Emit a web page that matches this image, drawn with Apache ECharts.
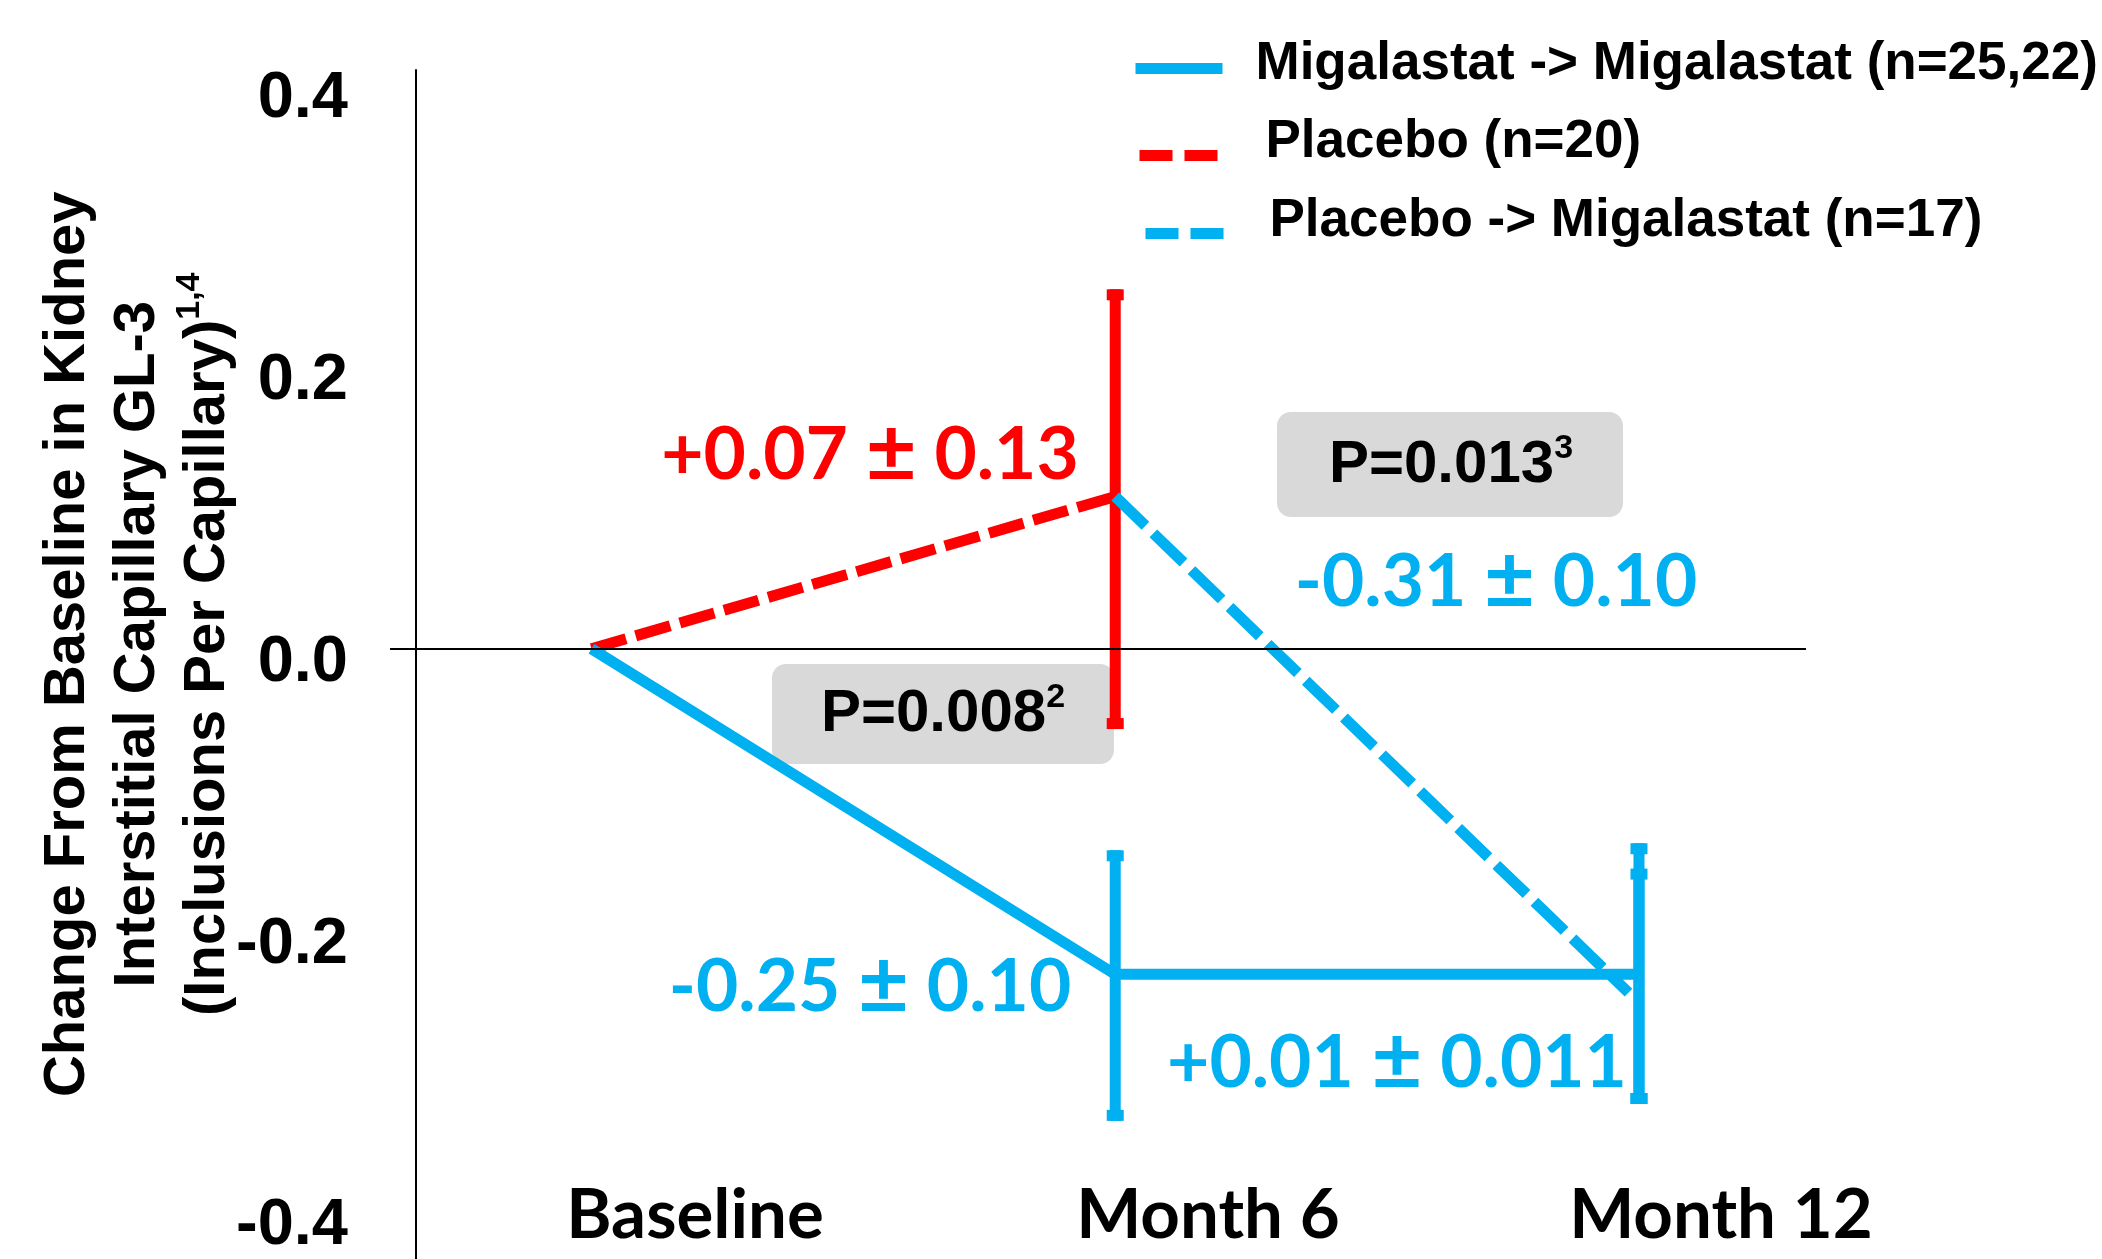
<!DOCTYPE html>
<html>
<head>
<meta charset="utf-8">
<script src="https://cdn.jsdelivr.net/npm/echarts@6/dist/echarts.min.js"></script>
<style>
html,body{margin:0;padding:0;background:#fff;}
#c{width:2102px;height:1259px;}
</style>
</head>
<body>
<div id="c"></div>
<script>
// ---- data ----
const categories = ['Baseline', 'Month 6', 'Month 12'];
const categoryPos = [0, 1, 2];
const yTicks = [-0.4, -0.2, 0, 0.2, 0.4];
const seriesNames = ['Migalastat -> Migalastat (n=25,22)', 'Placebo (n=20)', 'Placebo -> Migalastat (n=17)'];
const migMigX = [0, 1, 2];
const migMigY = [0, -0.231, -0.231];
const placeboX = [0, 1];
const placeboY = [0, 0.108];
const plaMigX = [1, 1.98];
const plaMigY = [0.108, -0.244];
const errX = [1, 1, 2, 2];
const errLow = [-0.057, -0.335, -0.323, -0.323];
const errHigh = [0.255, -0.143, -0.138, -0.156];
const errGroup = [1, 0, 0, 2];
const changeLabels = ['+0.07 \u00B1 0.13', '-0.31 \u00B1 0.10', '-0.25 \u00B1 0.10', '+0.01 \u00B1 0.011'];
const pLabels = ['P=0.008', 'P=0.013'];
const pSup = ['2', '3'];

// ---- styles ----
const BLUE = '#00B0F0', RED = '#FF0000', BOX = '#D9D9D9';
const ARIAL = "'Liberation Sans', Arial, sans-serif";
const CAL = "Lato, 'Open Sans', sans-serif";
const groupColor = [BLUE, RED, BLUE];

const chart = echarts.init(document.getElementById('c'), null, {renderer: 'canvas', width: 2102, height: 1259});

function legendCfg(i, left, top, width, dash, lift, padLeft) {
  return {
    data: [{name: seriesNames[i]}],
    orient: 'vertical', left: left, top: top, padding: 0,
    itemWidth: width, itemHeight: 11,
    itemStyle: {color: 'rgba(0,0,0,0)', borderWidth: 0},
    lineStyle: {width: 11, type: dash, cap: 'butt'},
    formatter: name => name + '\n',
    textStyle: {fontFamily: ARIAL, fontWeight: 'bold', fontSize: 53, color: '#000', lineHeight: lift,
                padding: [0, 0, 0, padLeft]},
    selectedMode: false
  };
}

function textEl(txt, x, y, color) {
  const parts = txt.split('\u00B1');
  return {type: 'text', x: x, y: y, z: 5,
    style: {text: '{n|' + parts[0] + '}{pm|\u00B1}{n|' + parts[1] + '}', align: 'center', verticalAlign: 'middle',
      rich: {
        n: {fill: color, fontFamily: CAL, fontWeight: 'bold', fontSize: 73, lineHeight: 80},
        pm: {fill: color, fontFamily: CAL, fontWeight: 'bold', fontSize: 88, lineHeight: 80}
      }}};
}
function pEl(i, x, y) {
  return {type: 'text', x: x, y: y, z: 5,
    style: {text: '{m|' + pLabels[i] + '}{s|' + pSup[i] + '}', align: 'center', verticalAlign: 'middle',
      rich: {
        m: {fontFamily: ARIAL, fontWeight: 'bold', fontSize: 60, fill: '#000', lineHeight: 66},
        s: {fontFamily: ARIAL, fontWeight: 'bold', fontSize: 34, fill: '#000', verticalAlign: 'top', lineHeight: 40}
      }}};
}

const option = {
  animation: false,
  backgroundColor: '#ffffff',
  grid: {left: 390, right: 296, top: 70, bottom: 0},
  xAxis: [
    {type: 'value', min: -0.3847, max: 2.3189, position: 'top', show: false},
    {type: 'value', min: -0.5945, max: 2.1657, position: 'bottom', offset: -79,
     axisLine: {show: false}, axisTick: {show: false}, splitLine: {show: false},
     axisLabel: {customValues: categoryPos, formatter: v => categories[Math.round(v)],
       fontFamily: CAL, fontWeight: 'bold', fontSize: 69, color: '#000', margin: 36, verticalAlign: 'middle'}}
  ],
  yAxis: {
    type: 'value', min: -0.4326, max: 0.4106, offset: -26,
    axisLine: {show: true, onZero: false, lineStyle: {color: '#000', width: 2}},
    axisTick: {show: false}, splitLine: {show: false},
    axisLabel: {customValues: yTicks, formatter: v => '\n' + v.toFixed(1), fontFamily: ARIAL, fontWeight: 'bold',
      fontSize: 65, lineHeight: 28, color: '#000', margin: 68, padding: [24, 0, 0, 0]},
    name: 'Change From Baseline in Kidney\nInterstitial Capillary GL-3\n(Inclusions Per Capillary){sup|1,4}',
    nameLocation: 'middle', nameRotate: 90, nameGap: 173, nameMoveOverlap: false,
    nameTextStyle: {fontFamily: ARIAL, fontWeight: 'bold', fontSize: 58, lineHeight: 70, color: '#000',
      padding: [0, 0, 0, 40],
      rich: {sup: {fontFamily: ARIAL, fontWeight: 'bold', fontSize: 34, lineHeight: 70, verticalAlign: 'top', color: '#000'}}}
  },
  legend: [
    legendCfg(0, 1130, 38, 87, 'solid', 8, 28),
    legendCfg(1, 1134, 116, 79, [33, 12], 26, 42),
    legendCfg(2, 1140, 195, 79, [33, 12], 24, 40)
  ],
  series: [
    {name: 'zero', type: 'line', data: [], z: 1, silent: true,
     markLine: {silent: true, symbol: 'none', label: {show: false}, animation: false,
       lineStyle: {color: '#000', width: 2, type: 'solid'}, data: [{yAxis: 0}]}},
    {name: 'errorbars', type: 'custom', z: 2, silent: true,
     data: errX.map((x, i) => [x, errLow[i], errHigh[i], errGroup[i]]),
     encode: {x: 0, y: [1, 2]},
     renderItem: function (params, api) {
       const x = api.value(0), lo = api.value(1), hi = api.value(2), g = api.value(3);
       const top = api.coord([x, hi]), bot = api.coord([x, lo]);
       const c = groupColor[g];
       return {type: 'group', children: [
         {type: 'line', shape: {x1: top[0], y1: top[1], x2: bot[0], y2: bot[1]}, style: {stroke: c, lineWidth: 11}},
         {type: 'rect', shape: {x: top[0] - 8.5, y: top[1], width: 17, height: 11}, style: {fill: c}},
         {type: 'rect', shape: {x: bot[0] - 8.5, y: bot[1] - 11, width: 17, height: 11}, style: {fill: c}}
       ]};
     }},
    {name: seriesNames[1], type: 'line', z: 3, symbol: 'none',
     data: placeboX.map((x, i) => [x, placeboY[i]]),
     itemStyle: {color: RED}, lineStyle: {color: RED, width: 11, type: [36, 10], cap: 'butt'}},
    {name: seriesNames[2], type: 'line', z: 4, symbol: 'none',
     data: plaMigX.map((x, i) => [x, plaMigY[i]]),
     itemStyle: {color: BLUE}, lineStyle: {color: BLUE, width: 11, type: [42, 11], cap: 'butt'}},
    {name: seriesNames[0], type: 'line', z: 4, symbol: 'none',
     data: migMigX.map((x, i) => [x, migMigY[i]]),
     itemStyle: {color: BLUE}, lineStyle: {color: BLUE, width: 11, type: 'solid', join: 'miter'}}
  ],
  graphic: [
    {type: 'rect', z: 0, shape: {x: 772, y: 664, width: 342, height: 100, r: 14}, style: {fill: BOX}},
    {type: 'rect', z: 0, shape: {x: 1277, y: 412, width: 346, height: 105, r: 14}, style: {fill: BOX}},
    pEl(0, 943, 714),
    pEl(1, 1451, 465),
    textEl(changeLabels[0], 870, 455, RED),
    textEl(changeLabels[1], 1496, 582, BLUE),
    textEl(changeLabels[2], 870, 987, BLUE),
    textEl(changeLabels[3], 1397, 1063, BLUE)
  ]
};
chart.setOption(option);
</script>
</body>
</html>
